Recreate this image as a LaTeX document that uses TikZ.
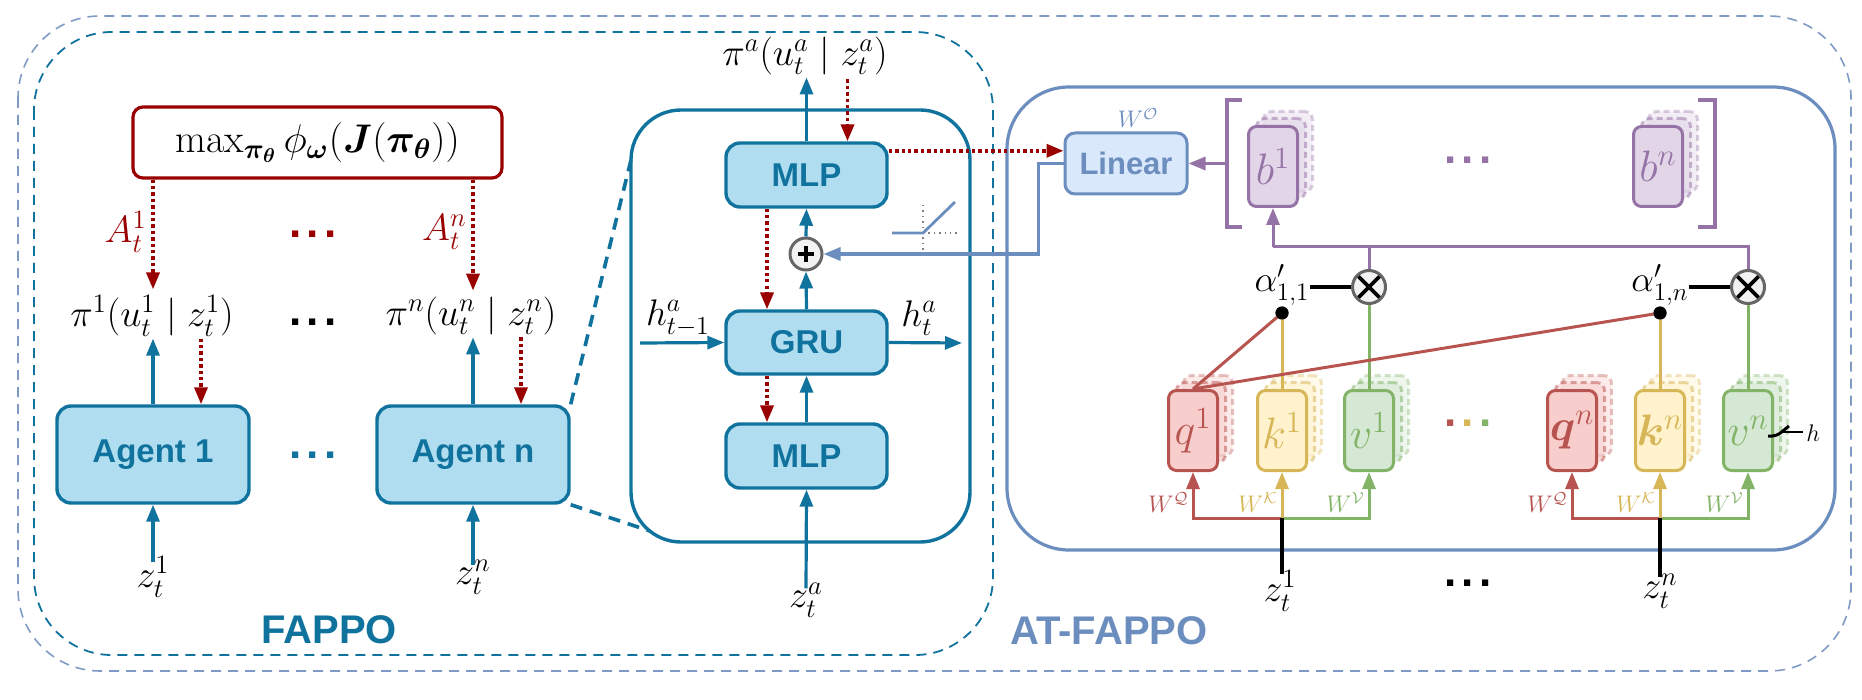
\documentclass[tikz,border=0pt]{standalone}
\usepackage{fix-cm}
\usepackage{amsmath}
\usepackage{bm}
\usepackage{fontspec}
\setsansfont{Liberation Sans}
\usetikzlibrary{arrows.meta,calc}
\definecolor{cTeal}{HTML}{10739E}
\definecolor{cTealF}{HTML}{B1DDF0}
\definecolor{cRed}{HTML}{990000}
\definecolor{cBlue}{HTML}{6C8EBF}
\definecolor{cBlueF}{HTML}{DAE8FC}
\definecolor{cOut}{HTML}{7F9AC4}
\definecolor{cPur}{HTML}{9673A6}
\definecolor{cPurF}{HTML}{E1D5E7}
\definecolor{cQ}{HTML}{B85450}
\definecolor{cQF}{HTML}{F8CECC}
\definecolor{cK}{HTML}{D6B656}
\definecolor{cKF}{HTML}{FFF2CC}
\definecolor{cV}{HTML}{82B366}
\definecolor{cVF}{HTML}{D5E8D4}
\definecolor{cGray}{HTML}{666666}
\definecolor{cGrayF}{HTML}{F2F2F2}
\newcommand{\sqd}{.\kern2.6pt.\kern2.6pt.}
\newcommand{\stk}[6]{%
  \node[sbox,dash pattern=on 3pt off 2pt,draw=#4,fill=#5,draw opacity=.35,fill opacity=.4] at ({#2+15},{#3-15}) {};
  \node[sbox,dash pattern=on 3pt off 2pt,draw=#4,fill=#5,draw opacity=.5,fill opacity=.6] at ({#2+8},{#3-8}) {};
  \node[sbox,draw=#4,fill=#5,text=#4] (#1) at (#2,#3) {$#6$};
}
\begin{document}
\begin{tikzpicture}[x=0.5pt,y=-0.5pt,
  tbox/.style={draw=cTeal,fill=cTealF,line width=1.7pt,rounded corners=7pt,inner sep=0pt,
    font=\sffamily\bfseries\fontsize{16.5}{18}\selectfont,text=cTeal},
  arr/.style={-{Triangle[length=8.5pt,width=6.5pt]},line width=1.6pt},
  redd/.style={cRed,line width=1.8pt,dash pattern=on 1.7pt off 1.5pt,-{Triangle[length=8.5pt,width=6.5pt]}},
  mlab/.style={inner sep=0pt,font=\fontsize{19}{22}\selectfont},
  alab/.style={inner sep=0pt,font=\fontsize{19}{21}\selectfont,text=cRed},
  wlab/.style={inner sep=0pt,font=\fontsize{12}{14}\selectfont},
  dots/.style={inner sep=0pt,font=\sffamily\bfseries\fontsize{22}{24}\selectfont},
  big/.style={inner sep=0pt,font=\sffamily\bfseries\fontsize{20}{24}\selectfont},
  sbox/.style={rectangle,rounded corners=4pt,minimum width=24.5pt,minimum height=40pt,
    line width=1.5pt,inner sep=0pt,font=\fontsize{22}{24}\selectfont},
  otim/.style={circle,draw=cGray,fill=cGrayF,line width=1.5pt,minimum size=16.5pt,inner sep=0pt,
    path picture={\draw[black,line width=1.8pt]
      ($(path picture bounding box.center)+(45:9pt)$) -- ($(path picture bounding box.center)+(225:9pt)$)
      ($(path picture bounding box.center)+(135:9pt)$) -- ($(path picture bounding box.center)+(315:9pt)$);}},
  oplus/.style={circle,draw=cGray,fill=cGrayF,line width=1.5pt,minimum size=16pt,inner sep=0pt,
    path picture={\draw[black,line width=1.7pt]
      ($(path picture bounding box.center)+(0:4pt)$) -- ($(path picture bounding box.center)+(180:4pt)$)
      ($(path picture bounding box.center)+(90:4pt)$) -- ($(path picture bounding box.center)+(270:4pt)$);}},
  bdot/.style={circle,fill=black,minimum size=6.5pt,inner sep=0pt}
]
\useasboundingbox (0,0) rectangle (1862,700);
% outer dashed frames
\draw[cOut,line width=0.8pt,dash pattern=on 5pt off 3.5pt,rounded corners=41pt] (18,16) rectangle (1851,671);
\draw[cTeal,line width=0.9pt,dash pattern=on 5pt off 3.5pt,rounded corners=39pt] (34,32) rectangle (993,655);

% ---------------- FAPPO ----------------
\node[draw=cRed,line width=1.6pt,rounded corners=5pt,minimum width=184.5pt,minimum height=35.5pt,inner sep=0pt,
  font=\fontsize{20}{24}\selectfont] (mx) at (317.5,142.5)
  {$\max_{\bm{\pi}_{\bm{\theta}}}\phi_{\bm{\omega}}(\bm{J}(\bm{\pi}_{\bm{\theta}}))$};
\node[mlab] (pi1) at (152,316) {$\pi^1(u_t^1\mid z_t^1)$};
\node[mlab] (pin) at (471,316) {$\pi^n(u_t^n\mid z_t^n)$};
\node[alab,anchor=east] (A1) at (147,232) {$A_t^1$};
\node[alab,anchor=east] (An) at (467,232) {$A_t^n$};
\node[dots,text=cRed] (rd) at (313,234) {\sqd};
\node[dots,text=black] (bd) at (313,322) {\sqd};
\node[tbox,minimum width=96pt,minimum height=48.5pt] (a1) at (153,454.5) {Agent 1};
\node[tbox,minimum width=96pt,minimum height=48.5pt] (an) at (473,454.5) {Agent n};
\node[dots,text=cTeal] (td) at (313,455) {\sqd};
\node[mlab] (z1) at (153,577) {$z_t^1$};
\node[mlab] (zn) at (473,577) {$z_t^n$};
\node[big,text=cTeal] (fl) at (329,630) {FAPPO};

\draw[redd] (mx.south -| a1.north) -- ([yshift=3pt]pi1.north -| a1.north);
\draw[redd] (mx.south -| an.north) -- ([yshift=3pt]pin.north -| an.north);
\draw[arr,cTeal] (a1.north) -- ([yshift=-1pt]pi1.south -| a1.north);
\draw[arr,cTeal] (an.north) -- ([yshift=-1pt]pin.south -| an.north);
\draw[redd] ([xshift=24pt,yshift=-1pt]a1.north |- pi1.south) -- ([xshift=24pt]a1.north);
\draw[redd] ([xshift=24pt,yshift=-1pt]an.north |- pin.south) -- ([xshift=24pt]an.north);
\draw[arr,cTeal] ([yshift=-3pt]z1.north) -- (a1.south);
\draw[arr,cTeal] ([yshift=-3pt]zn.north) -- (an.south);

% ---------------- agent detail ----------------
\node[draw=cTeal,line width=1.7pt,rounded corners=25pt,minimum width=169.5pt,minimum height=216pt,inner sep=0pt] (bigbox) at (800.5,326) {};
\coordinate (bA) at (631,160);
\coordinate (bB) at (650,531);
\draw[cTeal,line width=1.8pt,dash pattern=on 6pt off 4pt] (an.north east) -- (bA);
\draw[cTeal,line width=1.8pt,dash pattern=on 6pt off 4pt] (an.south east) -- (bB);

\node[tbox,minimum width=80.5pt,minimum height=32pt] (m2) at (806.5,175) {MLP};
\node[tbox,minimum width=80.5pt,minimum height=31.5pt] (gru) at (806.5,342.5) {GRU};
\node[tbox,minimum width=80.5pt,minimum height=32pt] (m1) at (806.5,456) {MLP};
\node[oplus] (pl) at (806,254) {};
\node[mlab] (pia) at (805,56) {$\pi^a(u_t^a\mid z_t^a)$};
\node[mlab] (za) at (806,600) {$z_t^a$};
\node[mlab,font=\fontsize{18.5}{20}\selectfont] (hm) at (678,318) {$h_{t-1}^a$};
\node[mlab,font=\fontsize{18.5}{20}\selectfont] (hp) at (919,318) {$h_t^a$};
\coordinate (hin) at (640,343);
\coordinate (hout) at (962,343);

\draw[arr,cTeal] (m2.north) -- ([yshift=-1pt]pia.south -| m2.north);
\draw[redd] ([xshift=20.5pt,yshift=-2pt]m2.north |- pia.south) -- ([xshift=20.5pt]m2.north);
\draw[redd] ([xshift=-19.75pt]m2.south) -- ([xshift=-19.75pt]gru.north);
\draw[redd] ([xshift=-19.75pt]gru.south) -- ([xshift=-19.75pt]m1.north);
\draw[arr,cTeal] (m1.north) -- (gru.south);
\draw[arr,cTeal] (gru.north) -- (pl.south);
\draw[arr,cTeal] (pl.north) -- (m2.south);
\draw[arr,cTeal] ([yshift=-3pt]za.north) -- (m1.south);
\draw[arr,cTeal] (hin) -- (gru.west);
\draw[arr,cTeal] (gru.east) -- (hout);

% ReLU icon
\draw[gray,line width=0.7pt,dotted] (923,205) -- (923,251) (923,233) -- (957,233);
\draw[cBlue,line width=1.4pt] (892,233) -- (923,233) -- (955,202);

% ---------------- AT-FAPPO ----------------
\node[draw=cBlue,line width=1.6pt,rounded corners=31pt,minimum width=414pt,minimum height=231.5pt,inner sep=0pt] (at) at (1421,318.5) {};
\node[big,text=cBlue] (atl) at (1109,631) {AT-FAPPO};

\node[draw=cBlue,fill=cBlueF,line width=1.5pt,rounded corners=5pt,minimum width=61pt,minimum height=30.5pt,inner sep=0pt,
  text=cBlue,font=\sffamily\bfseries\fontsize{15.5}{17}\selectfont] (lin) at (1126,163.5) {Linear};
\node[wlab,text=cBlue] (wo) at (1138,118) {$W^{\mathcal{O}}$};

\draw[redd] ([yshift=-4.75pt]m2.north east) -- ([yshift=-4.75pt]m2.north east -| lin.west);
\draw[arr,cBlue] (lin.west) -- ++(-25,0) |- (pl.east);

% brackets
\draw[cPur,line width=1.6pt] (1242,100) -- (1227,100) -- (1227,227) -- (1242,227);
\draw[cPur,line width=1.6pt] (1698,100) -- (1715,100) -- (1715,227) -- (1698,227);
\coordinate (brL) at (1227,163.5);
\draw[arr,cPur] (brL) -- (lin.east);

\stk{b1}{1273}{166.5}{cPur}{cPurF}{b^1}
\stk{bn}{1658}{166.5}{cPur}{cPurF}{b^n}
\node[dots,text=cPur] (pd) at (1468,160) {\sqd};

\stk{q1}{1193}{430.5}{cQ}{cQF}{q^1}
\stk{k1}{1282}{430.5}{cK}{cKF}{k^1}
\stk{v1}{1369}{430.5}{cV}{cVF}{v^1}
\stk{qn}{1572}{430.5}{cQ}{cQF}{\bm{q}^n}
\stk{kn}{1660}{430.5}{cK}{cKF}{\bm{k}^n}
\stk{vn}{1748}{430.5}{cV}{cVF}{v^n}
\node[dots] (cd) at (1468,423) {\textcolor{cQ}{.}\kern2.6pt\textcolor{cK}{.}\kern2.6pt\textcolor{cV}{.}};

\node[otim] (o1) at (1369,287) {};
\node[otim] (o2) at (1748,287) {};
\node[bdot] (d1) at (1282,313) {};
\node[bdot] (dn) at (1660,313) {};
\node[mlab,font=\fontsize{18}{20}\selectfont,anchor=south] (al1) at (d1.north) {$\alpha'_{1,1}$};
\node[mlab,font=\fontsize{18}{20}\selectfont,anchor=south] (aln) at (dn.north) {$\alpha'_{1,n}$};
\draw[black,line width=1.6pt] (al1.east |- o1.west) -- (o1.west);
\draw[black,line width=1.6pt] (aln.east |- o2.west) -- (o2.west);

% bus to b
\coordinate (bus) at (0,247);
\draw[cPur,line width=1.5pt] (o2.north) -- (o2.north |- bus) -- (b1.south |- bus);
\draw[cPur,line width=1.5pt] (o1.north) -- (o1.north |- bus);
\draw[arr,cPur,line width=1.5pt] (b1.south |- bus) -- (b1.south);

% attention lines
\draw[cK,line width=1.5pt] (d1.center) -- (k1.north);
\draw[cK,line width=1.5pt] (dn.center) -- (kn.north);
\draw[cV,line width=1.5pt] (o1.south) -- (v1.north);
\draw[cV,line width=1.5pt] (o2.south) -- (vn.north);
\draw[cQ,line width=1.5pt] (q1.north) -- (d1.center);
\draw[cQ,line width=1.5pt] (q1.north) -- (dn.center);
\node[bdot] at (d1) {};
\node[bdot] at (dn) {};

% inputs
\node[mlab] (z1b) at (1280,591) {$z_t^1$};
\node[mlab] (znb) at (1660,591) {$z_t^n$};
\coordinate (j1) at (1282,518);
\coordinate (jn) at (1660,518);
\draw[arr,cQ,line width=1.5pt] (j1) -| (q1.south);
\draw[arr,cV,line width=1.5pt] (j1) -| (v1.south);
\draw[arr,cK,line width=1.5pt] (j1) -- (k1.south);
\draw[arr,cQ,line width=1.5pt] (jn) -| (qn.south);
\draw[arr,cV,line width=1.5pt] (jn) -| (vn.south);
\draw[arr,cK,line width=1.5pt] (jn) -- (kn.south);
\draw[black,line width=1.9pt] ([yshift=-2pt]z1b.north -| j1) -- (j1);
\draw[black,line width=1.9pt] ([yshift=-2pt]znb.north -| jn) -- (jn);
\node[dots,text=black] (kd) at (1468,583) {\sqd};

\node[wlab,text=cQ,anchor=base east] at (1189,512) {$W^{\mathcal{Q}}$};
\node[wlab,text=cK,anchor=base east] at (1278,512) {$W^{\mathcal{K}}$};
\node[wlab,text=cV,anchor=base east] at (1365,512) {$W^{\mathcal{V}}$};
\node[wlab,text=cQ,anchor=base east] at (1568,512) {$W^{\mathcal{Q}}$};
\node[wlab,text=cK,anchor=base east] at (1656,512) {$W^{\mathcal{K}}$};
\node[wlab,text=cV,anchor=base east] at (1744,512) {$W^{\mathcal{V}}$};

% h annotation
\draw[black,line width=1.5pt] (1768,436) .. controls (1779,437) and (1782,431) .. (1789,426);
\draw[black,line width=1pt] (1781,432) -- (1803,432);
\node[wlab] (hl) at (1813,433) {$h$};
\end{tikzpicture}
\end{document}
